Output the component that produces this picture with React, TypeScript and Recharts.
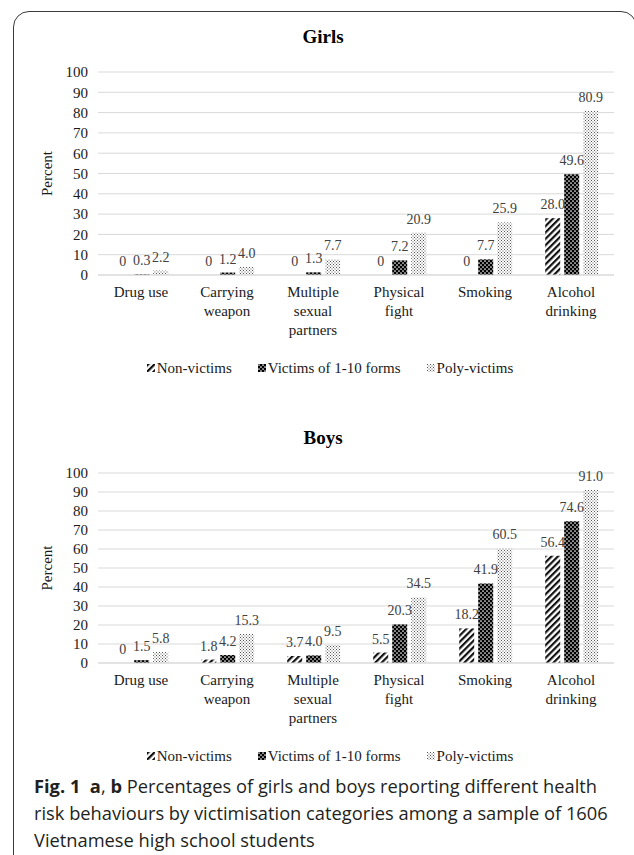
import React from 'react';
import { Bar, BarChart, CartesianGrid, LabelList, Legend, XAxis, YAxis } from 'recharts';

const categories = [
  'Drug use',
  'Carrying\nweapon',
  'Multiple\nsexual\npartners',
  'Physical\nfight',
  'Smoking',
  'Alcohol\ndrinking',
];

const seriesNames = ['Non-victims', 'Victims of 1-10 forms', 'Poly-victims'];

const girlsNon = [0, 0, 0, 0, 0, 28.0];
const girlsVictims = [0.3, 1.2, 1.3, 7.2, 7.7, 49.6];
const girlsPoly = [2.2, 4.0, 7.7, 20.9, 25.9, 80.9];

const boysNon = [0, 1.8, 3.7, 5.5, 18.2, 56.4];
const boysVictims = [1.5, 4.2, 4.0, 20.3, 41.9, 74.6];
const boysPoly = [5.8, 15.3, 9.5, 34.5, 60.5, 91.0];

const yTicks = [0, 10, 20, 30, 40, 50, 60, 70, 80, 90, 100];

const serif = "'Liberation Serif', 'Times New Roman', serif";
const patternIds = ['hatch', 'dots', 'stipple'];

const buildRows = (non: number[], vic: number[], poly: number[]) =>
  categories.map((name, i) => ({ name, non: non[i], vic: vic[i], poly: poly[i] }));

const girlsData = buildRows(girlsNon, girlsVictims, girlsPoly);
const boysData = buildRows(boysNon, boysVictims, boysPoly);

const fmt = (v: any) => (Number(v) === 0 ? '0' : Number(v).toFixed(1));

function Patterns() {
  return (
    <svg width={0} height={0} style={{ position: 'absolute' }}>
      <defs>
        <pattern id="hatch" patternUnits="userSpaceOnUse" width={4.5} height={4.5} patternTransform="rotate(45)">
          <rect width={4.5} height={4.5} fill="#fff" />
          <rect width={2.2} height={4.5} fill="#111" />
        </pattern>
        <pattern id="dots" patternUnits="userSpaceOnUse" width={4} height={4}>
          <rect width={4} height={4} fill="#000" />
          <circle cx={1} cy={1} r={0.85} fill="#fff" />
          <circle cx={3} cy={3} r={0.85} fill="#fff" />
        </pattern>
        <pattern id="stipple" patternUnits="userSpaceOnUse" width={3} height={3}>
          <rect width={3} height={3} fill="#fff" />
          <rect x={0} y={0} width={1} height={1} fill="#555" />
          <rect x={1.5} y={1.5} width={1} height={1} fill="#555" />
        </pattern>
      </defs>
    </svg>
  );
}

function CategoryTick(props: any) {
  const { x, y, payload } = props;
  const lines = String(payload.value).split('\n');
  return (
    <text x={x} y={y} textAnchor="middle" fontSize={15} fontFamily={serif} fill="#1a1a1a">
      {lines.map((line, i) => (
        <tspan key={i} x={x} dy={i === 0 ? 14 : 19}>
          {line}
        </tspan>
      ))}
    </text>
  );
}

function ValueLabel(props: any) {
  const { x, y, width, value } = props;
  if (value === undefined || value === null) return null;
  return (
    <text
      x={Number(x) + Number(width) / 2}
      y={Number(y) - 9}
      textAnchor="middle"
      fontSize={14}
      fontFamily={serif}
      fill="#404040"
    >
      {fmt(value)}
    </text>
  );
}

function LegendContent() {
  return (
    <div
      style={{
        display: 'flex',
        justifyContent: 'center',
        gap: 26,
        fontFamily: serif,
        fontSize: 15,
        color: '#1a1a1a',
        paddingLeft: 8,
        lineHeight: '24px',
      }}
    >
      {seriesNames.map((name, i) => (
        <span key={name} style={{ display: 'flex', alignItems: 'center' }}>
          <svg width={8} height={8} style={{ marginRight: 2 }}>
            <rect width={8} height={8} fill={`url(#${patternIds[i]})`} />
          </svg>
          {name}
        </span>
      ))}
    </div>
  );
}

function PanelChart({ data, top, marginTop, height }: { data: any[]; top: number; marginTop: number; height: number }) {
  const keys = ['non', 'vic', 'poly'];
  return (
    <div style={{ position: 'absolute', left: 0, top }}>
      <BarChart
        width={634}
        height={height}
        data={data}
        margin={{ top: marginTop, right: 20, left: 38, bottom: 0 }}
        barCategoryGap="20%"
        barGap={4}
      >
        <CartesianGrid vertical={false} stroke="#d9d9d9" />
        <XAxis
          dataKey="name"
          interval={0}
          tickLine={false}
          axisLine={{ stroke: '#d9d9d9' }}
          height={81}
          tick={<CategoryTick />}
        />
        <YAxis
          domain={[0, 100]}
          ticks={yTicks}
          interval={0}
          width={60}
          axisLine={false}
          tickLine={false}
          tickMargin={4}
          tick={{ fontSize: 15, fontFamily: serif, fill: '#1a1a1a' }}
          label={{
            value: 'Percent',
            angle: -90,
            position: 'insideLeft',
            offset: 9,
            style: { textAnchor: 'middle', fontSize: 15, fontFamily: serif, fill: '#1a1a1a' },
          }}
        />
        <Legend verticalAlign="bottom" height={24} content={<LegendContent />} />
        {keys.map((k, i) => (
          <Bar
            key={k}
            dataKey={k}
            name={seriesNames[i]}
            fill={`url(#${patternIds[i]})`}
            minPointSize={0.01}
            isAnimationActive={false}
          >
            <LabelList dataKey={k} content={<ValueLabel />} />
          </Bar>
        ))}
      </BarChart>
    </div>
  );
}

const titleStyle: React.CSSProperties = {
  position: 'absolute',
  left: 0,
  width: 646,
  textAlign: 'center',
  fontFamily: serif,
  fontWeight: 'bold',
  fontSize: 19,
  lineHeight: '22px',
  color: '#000',
};

export default function App() {
  return (
    <div style={{ position: 'absolute', left: 0, top: 0, width: 634, height: 855, overflow: 'hidden', background: '#fff' }}>
      <Patterns />
      <div
        style={{
          position: 'absolute',
          left: 13,
          top: 11,
          width: 624,
          height: 900,
          border: '1.5px solid #3a3a3a',
          borderRadius: 16,
          boxSizing: 'border-box',
        }}
      />
      <div style={{ ...titleStyle, top: 26 }}>Girls</div>
      <PanelChart data={girlsData} top={0} marginTop={72} height={380} />
      <div style={{ ...titleStyle, top: 427 }}>Boys</div>
      <PanelChart data={boysData} top={400} marginTop={73} height={368} />
      <div
        style={{
          position: 'absolute',
          left: 34,
          top: 772,
          fontFamily: "'Open Sans', 'Noto Sans', sans-serif",
          fontSize: 18.3,
          lineHeight: '27px',
          color: '#231f20',
          whiteSpace: 'nowrap',
        }}
      >
        <b>Fig. 1</b>&nbsp;&nbsp;<b>a</b>, <b>b</b> Percentages of girls and boys reporting different health
        <br />
        risk behaviours by victimisation categories among a sample of 1606
        <br />
        Vietnamese high school students
      </div>
    </div>
  );
}
